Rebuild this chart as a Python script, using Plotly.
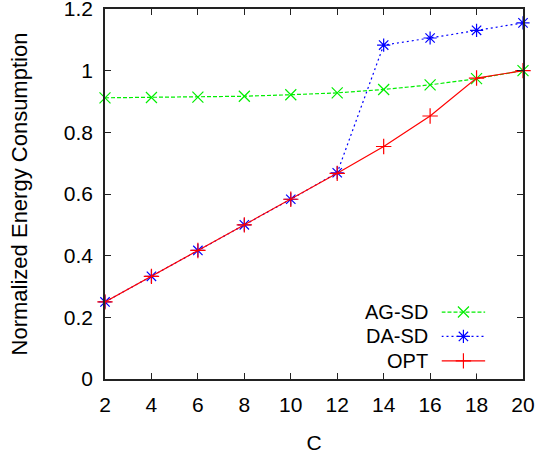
import plotly.graph_objects as go

C = [2, 4, 6, 8, 10, 12, 14, 16, 18, 20]
ag_sd = [0.912, 0.913, 0.914, 0.917, 0.922, 0.928, 0.939, 0.954, 0.974, 1.0]
da_sd = [0.25, 0.333, 0.417, 0.5, 0.583, 0.669, 1.083, 1.106, 1.131, 1.155]
opt = [0.25, 0.333, 0.417, 0.5, 0.583, 0.667, 0.754, 0.853, 0.976, 1.0]
names = ["AG-SD", "DA-SD", "OPT"]
colors = ["#00ee00", "#0000ff", "#ff0000"]
dashes = ["4px,2px", "2px,3px", "solid"]
symbols = ["x-thin-open", "asterisk-open", "cross-thin-open"]
series = [ag_sd, da_sd, opt]

fig = go.Figure()
for name, ys, col, dsh, sym in zip(names, series, colors, dashes, symbols):
    fig.add_trace(go.Scatter(
        x=C, y=ys, mode="lines+markers", name=name,
        line=dict(color=col, width=1.2, dash=dsh),
        marker=dict(symbol=sym, size=11, color=col, line=dict(color=col, width=1.2)),
        showlegend=False, cliponaxis=False,
    ))

# Manual legend (gnuplot style: label right-aligned, sample on right)
leg_y = [0.83, 0.5, 0.17]
for name, col, dsh, sym, ly in zip(names, colors, dashes, symbols, leg_y):
    fig.add_trace(go.Scatter(
        x=[0.0, 0.5, 1.0], y=[ly, ly, ly], xaxis="x2", yaxis="y2",
        mode="lines", line=dict(color=col, width=1.2, dash=dsh),
        showlegend=False, hoverinfo="skip",
    ))
    fig.add_trace(go.Scatter(
        x=[0.5], y=[ly], xaxis="x2", yaxis="y2",
        mode="markers",
        marker=dict(symbol=sym, size=11, color=col, line=dict(color=col, width=1.2)),
        showlegend=False, hoverinfo="skip",
    ))

ydom0, ydom1 = 0.015, 0.215
for name, ly in zip(names, leg_y):
    fig.add_annotation(x=0.778, y=ydom0 + ly * (ydom1 - ydom0), xref="paper", yref="paper", text=name,
                       showarrow=False, xanchor="right", yanchor="middle",
                       font=dict(size=20, color="black"))

axis_common = dict(
    showline=True, linecolor="#222", linewidth=1.5, mirror="ticks",
    ticks="inside", ticklen=6, tickcolor="#222", showgrid=False, zeroline=False,
    tickfont=dict(size=21, color="black"), automargin=False, ticklabeloverflow="allow",
)
fig.update_layout(
    width=538, height=456,
    margin=dict(l=105, r=15, t=9, b=77, autoexpand=False),
    paper_bgcolor="white", plot_bgcolor="white",
    font=dict(family="Liberation Sans, Arial, sans-serif", color="black"),
    xaxis=dict(range=[2, 20], tickvals=C, ticklabelstandoff=6,
               title=dict(text="C", font=dict(size=21), standoff=20), **axis_common),
    yaxis=dict(range=[0, 1.2], tickvals=[0, 0.2, 0.4, 0.6, 0.8, 1, 1.2],
               ticktext=["0", "0.2", "0.4", "0.6", "0.8", "1", "1.2"], ticklabelstandoff=6,
               title=dict(text="Normalized Energy Consumption", font=dict(size=22), standoff=30), **axis_common),
    xaxis2=dict(domain=[0.805, 0.91], range=[0, 1], visible=False, anchor="y2"),
    yaxis2=dict(domain=[ydom0, ydom1], range=[0, 1], visible=False, anchor="x2"),
    showlegend=False,
)
fig.write_html("out.html")
